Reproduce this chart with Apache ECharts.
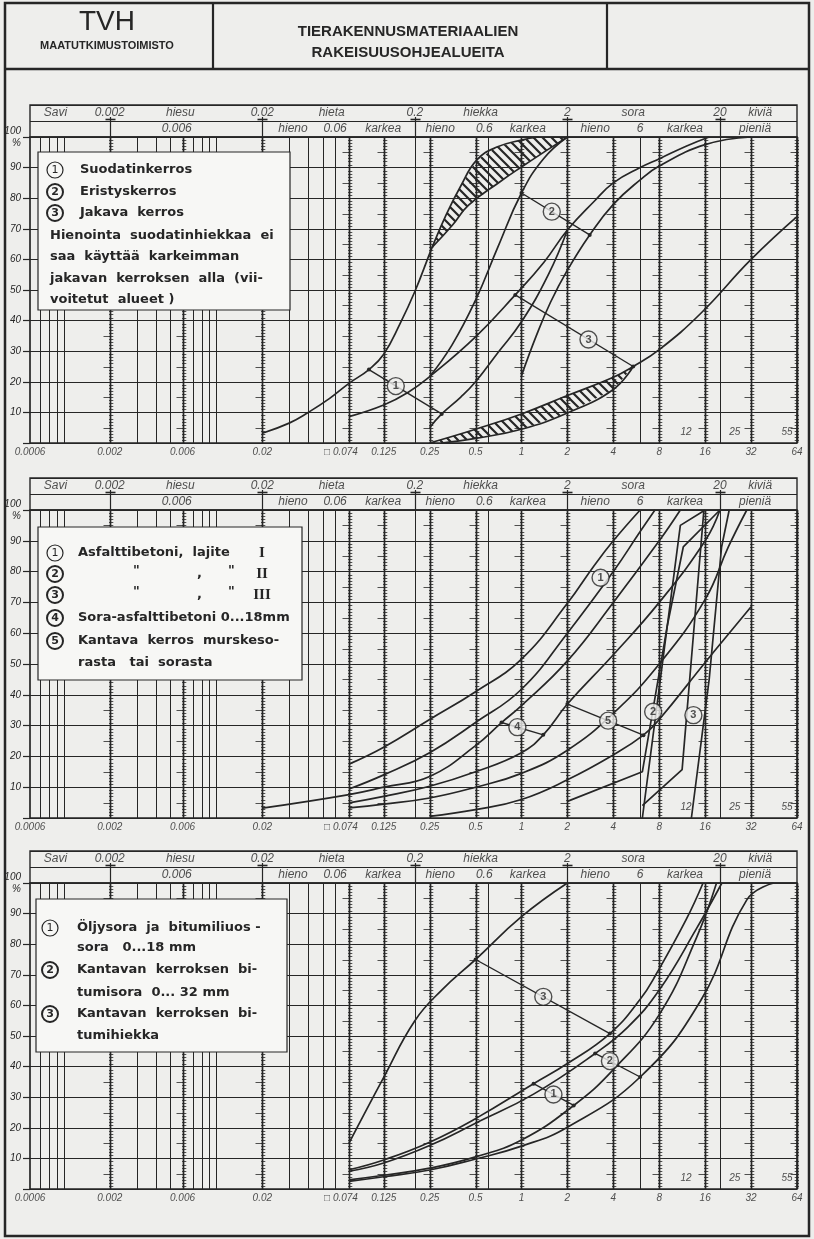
<!DOCTYPE html>
<html><head><meta charset="utf-8">
<script src="https://cdn.jsdelivr.net/npm/echarts@6/dist/echarts.min.js"></script>
<style>html,body{margin:0;padding:0;background:#eeeeec}#c{width:814px;height:1239px}</style>
</head><body><div id="c"></div>
<script>
// ---------- axis / tick data ----------
const xMin = 0.0006, xMax = 64;
const tickValues = [0.0006,0.002,0.006,0.02,0.074,0.125,0.25,0.5,1,2,4,8,16,32,64];
const tickLabels = ['0.0006','0.002','0.006','0.02','□ 0.074','0.125','0.25','0.5','1','2','4','8','16','32','64'];
const gridMinor = [0.0007,0.0008,0.0009,0.001,0.003,0.004,0.005,0.007,0.008,0.009,0.01,0.03,0.04,0.05,0.06,0.2,0.6,6,20];
const gridRuler = [0.002,0.006,0.02,0.074,0.125,0.25,0.5,1,2,4,8,16,32,64];
const sieveMarks = [12,25,55];
const headTop   = ['Savi','0.002','hiesu','0.02','hieta','0.2','hiekka','2','sora','20','kiviä'];
const headTopAt = [0.00088,0.002,0.0058,0.02,0.057,0.2,0.54,2,5.4,20,36.7];
const headSub   = ['0.006','hieno','0.06','karkea','hieno','0.6','karkea','hieno','6','karkea','pieniä'];
const headSubAt = [0.0055,0.0318,0.06,0.124,0.293,0.57,1.1,3.04,6,11.8,34];
const headDividers = [0.002,0.02,0.2,2,20];

// ---------- panel 1 : suodatin / eristys / jakava ----------
const p1_A   = [[0.02,3.2],[0.03,6.5],[0.04,10],[0.055,14.5],[0.074,19.5],[0.1,24],[0.125,29],[0.16,39],[0.2,49.5],[0.26,64],[0.32,74.5],[0.4,84],[0.51,92.5],[0.69,96.7],[1.0,99],[1.3,100]];
const p1_A2  = [[0.26,64],[0.35,71],[0.45,77.7],[0.72,85.3],[1.0,90.2],[1.47,95.7],[2.0,100]];
const p1_Q   = [[0.25,5],[0.3,9.5],[0.4,15],[0.5,20],[0.7,29.5],[1,39.6],[1.5,55],[2,69.6]];
const p1_Z2f = [[0.25,21.7],[0.35,32],[0.5,46.7],[0.7,64],[1,81.7],[1.4,93],[2,100]];
const p1_P   = [[0.074,8.6],[0.125,12.4],[0.18,16.5],[0.25,21.7],[0.5,34.7],[0.91,48.4],[1.4,59],[2,69.6],[3,79],[4,85],[6,90],[8.1,93],[12,97],[17,100]];
const p1_R   = [[1,22],[1.25,35],[1.55,46],[2,56.5],[2.8,68],[4,78],[6,86],[8,90.5],[16,97.5],[32,100]];
const p1_F   = [[0.25,0],[0.5,4.5],[1,9.5],[2,15.5],[4,21.5],[5.4,25],[8,30.5],[15,42.4],[32,60],[64,74]];
const p1_Bl  = [[0.3,0],[0.5,1.5],[1,4.5],[2,9.8],[4,17.5],[5.4,25]];
const p1_ind = [ {n:1, a:[0.1,24],   b:[0.3,9.5], at:[0.15,18.6]},
                 {n:2, a:[1,81.7],   b:[2.8,68],  at:[1.58,75.6]},
                 {n:3, a:[0.91,48.4],b:[5.4,25],  at:[2.75,33.8]} ];

// ---------- panel 2 : asfalttibetonit ----------
const p2_C1  = [[0.074,17.5],[0.125,23],[0.25,32],[0.5,41],[1,51.6],[2,69.7],[3,82],[4,90],[6,100]];
const p2_C2  = [[0.074,9.4],[0.125,14],[0.25,21.2],[0.5,31],[1,41.8],[2,60],[4,80],[6,93],[7.5,100]];
const p2_S0  = [[0.02,3.2],[0.074,7.6],[0.125,10],[0.25,13.5],[0.5,23.5],[0.74,31],[1,36.5],[2,51],[4,70],[8,90],[11,100]];
const p2_C3  = [[0.074,4.9],[0.125,7],[0.25,10.3],[0.5,15],[1,21.2],[1.39,27],[2,37],[4,53],[8,70],[16,90],[20,100]];
const p2_C5  = [[0.074,3.3],[0.125,4.5],[0.25,6.5],[0.5,10],[1,14.5],[2,22],[4,34],[8,50],[16,71],[22.7,88],[30,100]];
const p2_C6  = [[0.25,0.5],[0.5,2.7],[1,6],[2,12.4],[4,20.5],[6.3,26.9],[8,32],[16,50.5],[32,68.6]];
const p2_S2f = [[6.2,0],[11,95],[16,100]];
const p2_S2c = [[2,5.4],[6.2,15],[9,62],[11.5,88],[20,100]];
const p2_S3f = [[6.2,4],[11.3,15.7],[15.7,100]];
const p2_S3c = [[13,0],[17,45],[20.5,88],[23,100]];
const p2_ind = [ {n:4, a:[0.74,31], b:[1.39,27],  at:[0.94,29.5]},
                 {n:5, a:[2,37],    b:[6.3,26.9], at:[3.7,31.6]} ];
const p2_tags = [ {n:1, at:[3.3,78]}, {n:2, at:[7.3,34.5]}, {n:3, at:[13.4,33.4]} ];

// ---------- panel 3 : öljysora / bitumisora / bitumihiekka ----------
const p3_T1 = [[0.074,15],[0.125,36.5],[0.2,55],[0.3,65],[0.5,75],[1,89],[2,100]];
const p3_X  = [[0.074,6.3],[0.125,9.5],[0.25,15.3],[0.5,23],[1.2,34.4],[2,41],[3.8,50.8],[6,62],[7.7,70.5],[12,88],[15.5,100]];
const p3_Y  = [[0.074,5.8],[0.125,8.5],[0.25,14.2],[0.5,21.5],[1.2,31],[3.04,44.3],[5,53],[8,65],[14,85],[20.6,100]];
const p3_Z  = [[0.074,3],[0.125,4.5],[0.25,6.8],[0.5,10.5],[1,16],[2.2,27.3],[4,39],[8,57],[14,82],[19,100]];
const p3_W  = [[0.074,2.5],[0.125,4],[0.25,6.2],[0.5,9.8],[1,14],[2,20.2],[6,36.6],[15,61.7],[30,94.5],[45,100]];
const p3_ind = [ {n:1, a:[1.2,34.4], b:[2.2,27.3], at:[1.62,30.9]},
                 {n:2, a:[3.04,44.3],b:[6,36.6],   at:[3.8,41.8]},
                 {n:3, a:[0.5,75],   b:[3.8,50.8], at:[1.39,62.8]} ];

// ---------- styling / layout ----------
const INK = '#262626', BG = '#eeeeec', BOX = '#f7f7f5';
const PANEL_TOP = [137, 510, 883], PANEL_H = [306, 308, 306];
const NUMFONT = '"Liberation Sans", "DejaVu Sans", sans-serif';

function makeHatch(){
  const s=9, c=document.createElement('canvas'); c.width=s; c.height=s;
  const g=c.getContext('2d'); g.strokeStyle=INK; g.lineWidth=2.2;
  g.beginPath(); g.moveTo(-1,-1); g.lineTo(s+1,s+1); g.moveTo(-2,s-2); g.lineTo(2,s+2); g.moveTo(s-2,-2); g.lineTo(s+2,2); g.stroke();
  return c;
}
const HATCH = makeHatch();

const grids=[], xAxes=[], yAxes=[], series=[];
PANEL_TOP.forEach((t,i)=>{
  grids.push({left:30,right:17,top:t-32,height:32,show:true,borderColor:INK,borderWidth:1.4,backgroundColor:'transparent'});
  grids.push({left:30,right:17,top:t,height:PANEL_H[i],show:true,borderColor:INK,borderWidth:1.7,backgroundColor:'transparent'});
});
grids.forEach((g,k)=>{
  xAxes.push({type:'log',logBase:10,min:xMin,max:xMax,gridIndex:k,axisLine:{show:false},axisTick:{show:false},axisLabel:{show:false},splitLine:{show:false}});
  if(k%2===0){
    yAxes.push({type:'value',min:0,max:2,interval:1,gridIndex:k,axisLine:{show:false},axisTick:{show:false},axisLabel:{show:false},
      splitLine:{show:true,lineStyle:{color:INK,width:1.2}}});
  } else {
    yAxes.push({type:'value',min:0,max:100,interval:10,gridIndex:k,axisLine:{show:false},
      axisTick:{show:true,length:7,lineStyle:{color:INK,width:1.2}},
      axisLabel:{margin:9,color:INK,fontSize:10,fontStyle:'italic',fontFamily:NUMFONT,lineHeight:12,
        formatter:v=> v===100 ? '100\n%' : (v===0 ? '' : String(v))},
      splitLine:{show:true,lineStyle:{color:INK,width:1.2}}});
  }
});

function gridLineSeries(gi){
  const data = gridMinor.map(v=>[v,0,0]).concat(gridRuler.map(v=>[v,0,1]));
  return {type:'custom',xAxisIndex:gi,yAxisIndex:gi,data,encode:{x:0,y:1},silent:true,z:1,animation:false,
    renderItem:(params,api)=>{
      const v=api.value(0), heavy=api.value(2);
      const p0=api.coord([v,0]), p1=api.coord([v,100]);
      const x=Math.round(p0[0])+0.5;
      const ch=[{type:'line',shape:{x1:x,y1:p0[1],x2:x,y2:p1[1]},style:{stroke:INK,lineWidth:heavy?1.7:1}}];
      if(heavy){
        const dir = v>=xMax ? -1 : 1;
        let d='';
        for(let k=1;k<100;k++){
          if(k%10===0) continue;
          const y=Math.round(api.coord([v,k])[1])+0.5;
          d+='M'+(x-1.5*dir)+' '+y+'L'+(x+2.8*dir)+' '+y;
          if(k%5===0) d+='M'+(x-7)+' '+y+'L'+x+' '+y;
        }
        ch.push({type:'path',shape:{pathData:d},style:{stroke:INK,lineWidth:0.8,fill:null}});
      }
      return {type:'group',children:ch};
    }};
}
function headerSeries(hi){
  const items = headTop.map((t,i)=>({value:[headTopAt[i],1.5],name:t}))
    .concat(headSub.map((t,i)=>({value:[headSubAt[i],0.5],name:t})));
  return [
    {type:'scatter',xAxisIndex:hi,yAxisIndex:hi,data:items,symbolSize:1,clip:false,silent:true,animation:false,
      itemStyle:{color:'rgba(0,0,0,0)'},
      label:{show:true,position:'inside',formatter:'{b}',color:INK,fontSize:12,fontStyle:'italic',fontFamily:NUMFONT}},
    {type:'custom',xAxisIndex:hi,yAxisIndex:hi,data:headDividers.map(v=>[v,0]),encode:{x:0,y:1},silent:true,z:2,animation:false,
      renderItem:(params,api)=>{
        const v=api.value(0), p0=api.coord([v,0]), p1=api.coord([v,1]);
        const x=Math.round(p0[0])+0.5;
        return {type:'group',children:[
          {type:'line',shape:{x1:x,y1:p0[1],x2:x,y2:p1[1]},style:{stroke:INK,lineWidth:1.2}},
          {type:'line',shape:{x1:x-5,y1:p1[1]-1.5,x2:x+5,y2:p1[1]-1.5},style:{stroke:INK,lineWidth:1.6}},
          {type:'line',shape:{x1:x,y1:p1[1]-4,x2:x,y2:p1[1]},style:{stroke:INK,lineWidth:1.2}}
        ]};
      }}
  ];
}
function curve(gi,data,smooth){
  return {type:'line',xAxisIndex:gi,yAxisIndex:gi,data,symbol:'none',showSymbol:false,
    smooth: smooth===false ? false : 0.45,
    lineStyle:{color:INK,width:1.7},z:5,silent:true,animation:false,clip:true};
}
function band(gi,upper,lower){
  return {type:'custom',xAxisIndex:gi,yAxisIndex:gi,data:[upper[0]],encode:{x:0,y:1},silent:true,z:3,animation:false,
    renderItem:(params,api)=>{
      const pts=upper.map(p=>api.coord(p)).concat(lower.slice().reverse().map(p=>api.coord(p)));
      return {type:'polygon',shape:{points:pts},style:{fill:{image:HATCH,repeat:'repeat'},stroke:null}};
    }};
}
function tag(gi,pt,n){
  return {type:'scatter',xAxisIndex:gi,yAxisIndex:gi,data:[pt],symbol:'circle',symbolSize:17,silent:true,animation:false,clip:false,z:8,
    itemStyle:{color:BG,borderColor:INK,borderWidth:1.4},
    label:{show:true,position:'inside',formatter:String(n),fontSize:11,fontWeight:'bold',color:INK,fontFamily:NUMFONT}};
}
function indicator(gi,ind){
  return [{type:'line',xAxisIndex:gi,yAxisIndex:gi,data:[ind.a,ind.b],symbol:'circle',symbolSize:4,showSymbol:true,
      lineStyle:{color:INK,width:1.4},itemStyle:{color:INK},z:6,silent:true,animation:false},
    tag(gi,ind.at,ind.n)];
}
function axisLabelSeries(gi){
  const items = tickValues.map((v,i)=>{
    const it={value:[v,0],name:tickLabels[i]};
    if(tickLabels[i].indexOf('□')===0) it.label={offset:[-8,0]};
    return it;
  });
  const marks = sieveMarks.map(v=>({value:[v,3.6],name:String(v)}));
  return [
    {type:'scatter',xAxisIndex:gi,yAxisIndex:gi,data:items,symbolSize:1,clip:false,silent:true,animation:false,
      itemStyle:{color:'rgba(0,0,0,0)'},
      label:{show:true,position:'bottom',distance:4,formatter:'{b}',color:INK,fontSize:10,fontStyle:'italic',fontFamily:NUMFONT}},
    {type:'scatter',xAxisIndex:gi,yAxisIndex:gi,data:marks,symbolSize:1,clip:false,silent:true,animation:false,
      itemStyle:{color:'rgba(0,0,0,0)'},
      label:{show:true,position:'inside',formatter:'{b}',color:INK,fontSize:10,fontStyle:'italic',fontFamily:NUMFONT}}
  ];
}

// panel assembly
[0,1,2].forEach(i=>{
  const hi=2*i, gi=2*i+1;
  series.push(gridLineSeries(gi));
  series.push(...headerSeries(hi));
  series.push(...axisLabelSeries(gi));
});
// panel 1
(function(){
  const gi=1;
  const aUpper = p1_A.filter(p=>p[0]>=0.26);
  series.push(band(gi,aUpper,p1_A2));
  series.push(band(gi,p1_F.filter(p=>p[0]<=5.4),p1_Bl));
  [p1_A,p1_A2,p1_Q,p1_Z2f,p1_P,p1_R,p1_F,p1_Bl].forEach(c=>series.push(curve(gi,c)));
  p1_ind.forEach(d=>series.push(...indicator(gi,d)));
})();
// panel 2
(function(){
  const gi=3;
  [p2_C1,p2_C2,p2_S0,p2_C3,p2_C5,p2_C6].forEach(c=>series.push(curve(gi,c)));
  [p2_S2f,p2_S2c,p2_S3f,p2_S3c].forEach(c=>series.push(curve(gi,c,false)));
  p2_ind.forEach(d=>series.push(...indicator(gi,d)));
  p2_tags.forEach(t=>series.push(tag(gi,t.at,t.n)));
})();
// panel 3
(function(){
  const gi=5;
  [p3_T1,p3_X,p3_Y,p3_Z,p3_W].forEach(c=>series.push(curve(gi,c)));
  p3_ind.forEach(d=>series.push(...indicator(gi,d)));
})();

// ---------- graphic: frame, title block, legend boxes ----------
const G=[];
const LFONT='bold 13px "DejaVu Sans", sans-serif';
const SERIF='bold 15px "Liberation Serif", "DejaVu Serif", serif';
function rect(x,y,w,h,fill,lw,z){G.push({type:'rect',z:z||100,shape:{x,y,width:w,height:h},style:{fill:fill||'none',stroke:INK,lineWidth:lw||1.2}});}
function hline(x1,x2,y,lw){G.push({type:'line',z:100,shape:{x1,y1:y,x2,y2:y},style:{stroke:INK,lineWidth:lw}});}
function vline(x,y1,y2,lw){G.push({type:'line',z:100,shape:{x1:x,y1,x2:x,y2},style:{stroke:INK,lineWidth:lw}});}
function txt(x,y,text,font,align){G.push({type:'text',z:102,x,y,style:{text,font:font||LFONT,fill:INK,textAlign:align||'left',align:align||'left',textVerticalAlign:'middle',verticalAlign:'middle'}});}
function circ(x,y,n,bold){G.push({type:'circle',z:101,shape:{cx:x,cy:y,r:8},style:{fill:'none',stroke:INK,lineWidth:bold?2:1.2}});
  txt(x,y+0.5,String(n),(bold?'bold ':'')+'11px "DejaVu Sans", sans-serif','center');}

rect(5,3,804,1233,'none',2.5,90);
hline(5,809,69,2.5);
vline(213,3,69,2.2); vline(607,3,69,2.2);
txt(107,22,'TVH','28px "Liberation Sans", sans-serif','center');
txt(107,46,'MAATUTKIMUSTOIMISTO','bold 11px "Liberation Sans", sans-serif','center');
txt(408,32,'TIERAKENNUSMATERIAALIEN','bold 15px "Liberation Sans", sans-serif','center');
txt(408,53,'RAKEISUUSOHJEALUEITA','bold 15px "Liberation Sans", sans-serif','center');

// legend 1
rect(38,152,252,158,BOX,1.2);
circ(55,170,1,false); txt(80,170,'Suodatinkerros');
circ(55,192,2,true);  txt(80,192,'Eristyskerros');
circ(55,213,3,true);  txt(80,213,'Jakava  kerros');
txt(50,236,'Hienointa  suodatinhiekkaa  ei');
txt(50,257,'saa  käyttää  karkeimman');
txt(50,279,'jakavan  kerroksen  alla  (vii-');
txt(50,300,'voitetut  alueet )');
// legend 2
rect(38,527,264,153,BOX,1.2);
circ(55,553,1,false); txt(78,553,'Asfalttibetoni,  lajite'); txt(262,553,'I',SERIF,'center');
circ(55,574,2,true);  txt(133,571,'"'); txt(197,574,','); txt(228,571,'"'); txt(262,574,'II',SERIF,'center');
circ(55,595,3,true);  txt(133,592,'"'); txt(197,595,','); txt(228,592,'"'); txt(262,595,'III',SERIF,'center');
circ(55,618,4,true);  txt(78,618,'Sora-asfalttibetoni 0...18mm');
circ(55,641,5,true);  txt(78,641,'Kantava  kerros  murskeso-');
txt(78,663,'rasta   tai  sorasta');
// legend 3
rect(36,899,251,153,BOX,1.2);
circ(50,928,1,false); txt(77,928,'Öljysora  ja  bitumiliuos -');
txt(77,948,'sora   0...18 mm');
circ(50,970,2,true);  txt(77,970,'Kantavan  kerroksen  bi-');
txt(77,993,'tumisora  0... 32 mm');
circ(50,1014,3,true); txt(77,1014,'Kantavan  kerroksen  bi-');
txt(77,1036,'tumihiekka');

const chart = echarts.init(document.getElementById('c'), null, {renderer:'canvas'});
chart.setOption({
  backgroundColor:BG, animation:false,
  grid:grids, xAxis:xAxes, yAxis:yAxes, series, graphic:{elements:G}
});
</script></body></html>
